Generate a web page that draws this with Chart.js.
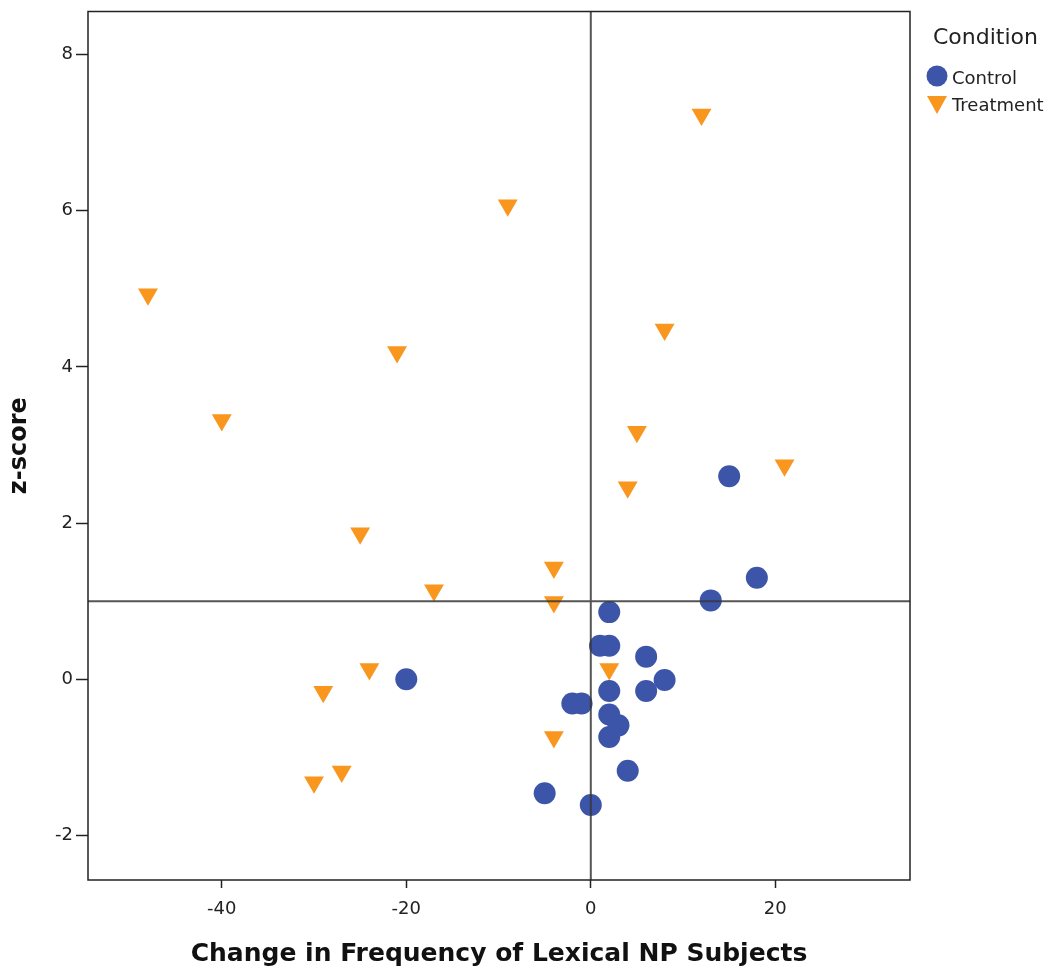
<!DOCTYPE html>
<html>
<head>
<meta charset="utf-8">
<script src="https://cdn.jsdelivr.net/npm/chart.js@4.4.1/dist/chart.umd.min.js"></script>
<style>
  html, body { margin: 0; padding: 0; background: #fff; }
  #wrap { position: relative; width: 1054px; height: 975px; }
  #c { position: absolute; left: 0; top: 0; }
  .lg { position: absolute; font-family: 'DejaVu Sans', sans-serif; color: #222; white-space: nowrap; line-height: 1; }
</style>
</head>
<body>
<div id="wrap">
  <canvas id="c" width="1054" height="975"></canvas>
  <div class="lg" style="left:933px; top:26px; font-size:22px;">Condition</div>
  <svg class="lg" style="left:925px; top:64px;" width="26" height="26"><circle cx="12" cy="12" r="10.5" fill="#3D55A8"/></svg>
  <div class="lg" style="left:952px; top:69px; font-size:18px;">Control</div>
  <svg class="lg" style="left:925px; top:93px;" width="26" height="24"><polygon points="2,3 22,3 12,21" fill="#F9961E"/></svg>
  <div class="lg" style="left:952px; top:96px; font-size:18px;">Treatment</div>
</div>
<script>
// ---- data ----
const controlX = [-20, -5, 0, 4, 2, 3, 2, 2, -2, -1, 1, 2, 2, 6, 6, 8, 13, 18, 15];
const controlY = [0.0, -1.46, -1.61, -1.17, -0.74, -0.59, -0.45, -0.15, -0.31, -0.31, 0.43, 0.43, 0.86, 0.29, -0.15, -0.01, 1.01, 1.30, 2.60];
const treatX = [12, -9, -48, -21, 8, -40, 5, 21, 4, -25, -4, -17, -4, -24, 2, -29, -4, -27, -30];
const treatY = [7.23, 6.07, 4.93, 4.19, 4.48, 3.32, 3.17, 2.74, 2.46, 1.87, 1.43, 1.14, 0.99, 0.13, 0.13, -0.16, -0.74, -1.18, -1.32];
const seriesNames = ['Control', 'Treatment'];
const xTicks = [-40, -20, 0, 20];
const yTicks = [-2, 0, 2, 4, 6, 8];
const xRange = [-54.5, 34.6];
const yRange = [-2.57, 8.55];
const refX = 0;
const refY = 1;
const xTitle = 'Change in Frequency of Lexical NP Subjects';
const yTitle = 'z-score';

const BLUE = '#3D55A8';
const ORANGE = '#F9961E';

Chart.defaults.font.family = "'DejaVu Sans', sans-serif";
Chart.defaults.color = '#222';

const toPts = (xs, ys) => xs.map((v, i) => ({ x: v, y: ys[i] }));

const refPlugin = {
  id: 'refLines',
  afterDatasetsDraw(chart) {
    const { ctx, chartArea: { left, right, top, bottom }, scales: { x, y } } = chart;
    ctx.save();
    ctx.strokeStyle = 'rgba(55,55,55,0.85)';
    ctx.lineWidth = 2;
    const px = x.getPixelForValue(refX);
    const py = y.getPixelForValue(refY);
    ctx.beginPath();
    ctx.moveTo(px, top); ctx.lineTo(px, bottom);
    ctx.moveTo(left, py); ctx.lineTo(right, py);
    ctx.stroke();
    ctx.strokeStyle = '#222';
    ctx.lineWidth = 1.5;
    ctx.strokeRect(left, top, right - left, bottom - top);
    ctx.restore();
  }
};

new Chart(document.getElementById('c'), {
  type: 'scatter',
  data: {
    datasets: [
      { label: seriesNames[0], data: toPts(controlX, controlY), pointStyle: 'circle', pointRadius: 11, pointHoverRadius: 11, backgroundColor: BLUE, borderWidth: 0 },
      { label: seriesNames[1], data: toPts(treatX, treatY), pointStyle: 'triangle', rotation: 180, pointRadius: 11.5, pointHoverRadius: 11.5, backgroundColor: ORANGE, borderWidth: 0 }
    ]
  },
  options: {
    responsive: false,
    animation: false,
    layout: { padding: { left: 0, top: 10, right: 144, bottom: 0 } },
    plugins: { legend: { display: false }, tooltip: { enabled: false } },
    scales: {
      x: {
        type: 'linear', min: xRange[0], max: xRange[1],
        afterBuildTicks: s => { s.ticks = xTicks.map(v => ({ value: v })); },
        afterFit: s => { s.height = 95; s.paddingLeft = 0; s.paddingRight = 0; },
        grid: { drawOnChartArea: false, drawTicks: true, tickLength: 8, tickColor: '#222', tickWidth: 1.5 },
        border: { display: false },
        ticks: { font: { size: 18 }, color: '#222', padding: 11, maxRotation: 0 },
        title: { display: true, text: xTitle, font: { size: 25, weight: 'bold' }, color: '#111', padding: { top: 0, bottom: 6 } }
      },
      y: {
        type: 'linear', min: yRange[0], max: yRange[1],
        afterBuildTicks: s => { s.ticks = yTicks.map(v => ({ value: v })); },
        afterFit: s => { s.width = 88; s.paddingTop = 0; s.paddingBottom = 0; },
        grid: { drawOnChartArea: false, drawTicks: true, tickLength: 12, tickColor: '#222', tickWidth: 1.5 },
        border: { display: false },
        ticks: { font: { size: 18 }, color: '#222', padding: 3 },
        title: { display: true, text: yTitle, font: { size: 24, weight: 'bold' }, color: '#111', padding: { top: 5, bottom: 0 } }
      }
    }
  },
  plugins: [refPlugin]
});
</script>
</body>
</html>
